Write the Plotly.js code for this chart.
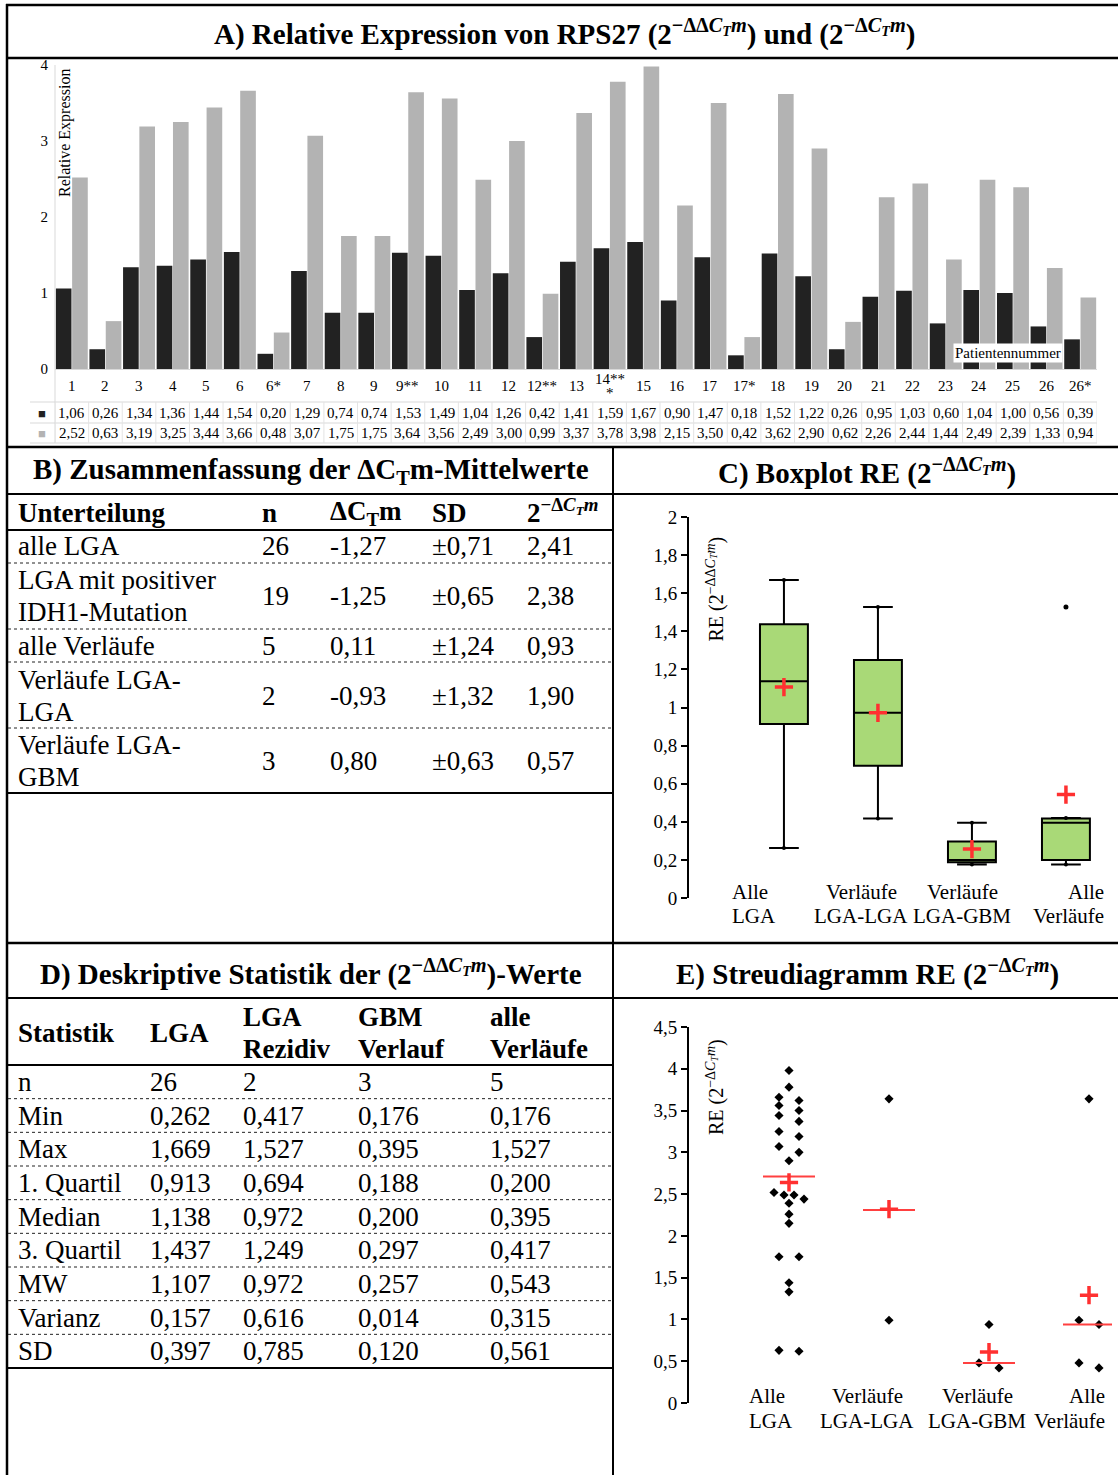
<!DOCTYPE html>
<html><head><meta charset="utf-8">
<script src="https://cdn.plot.ly/plotly-3.0.1.min.js"></script>
<style>html,body{margin:0;padding:0;background:#fff}#chart{width:1118px;height:1475px}</style>
</head><body><div id="chart"></div>
<script>
// ================= DATA =================
const patientLabels = ['1','2','3','4','5','6','6*','7','8','9','9**','10','11','12','12**','13','14***','15','16','17','17*','18','19','20','21','22','23','24','25','26','26*'];
const patientTickText = ['1','2','3','4','5','6','6*','7','8','9','9**','10','11','12','12**','13','14**<br>*','15','16','17','17*','18','19','20','21','22','23','24','25','26','26*'];
const reDeltaDelta = [1.06,0.26,1.34,1.36,1.44,1.54,0.20,1.29,0.74,0.74,1.53,1.49,1.04,1.26,0.42,1.41,1.59,1.67,0.90,1.47,0.18,1.52,1.22,0.26,0.95,1.03,0.60,1.04,1.00,0.56,0.39];
const reDelta = [2.52,0.63,3.19,3.25,3.44,3.66,0.48,3.07,1.75,1.75,3.64,3.56,2.49,3.00,0.99,3.37,3.78,3.98,2.15,3.50,0.42,3.62,2.90,0.62,2.26,2.44,1.44,2.49,2.39,1.33,0.94];
const verlaufLgaLga = ['9**','12**'];
const verlaufLgaGbm = ['6*','17*','26*'];

// Table B
const bGroups = ['alle LGA','LGA mit positiver<br>IDH1-Mutation','alle Verläufe','Verläufe LGA-<br>LGA','Verläufe LGA-<br>GBM'];
const bN = [26,19,5,2,3];
const bDeltaCt = [-1.27,-1.25,0.11,-0.93,0.80];
const bSD = [0.71,0.65,1.24,1.32,0.63];
const bRE = [2.41,2.38,0.93,1.90,0.57];

// Table D (rows: n, Min, Max, Q1, Median, Q3, MW, Varianz, SD)
const statNames = ['n','Min','Max','1. Quartil','Median','3. Quartil','MW','Varianz','SD'];
const statLGA = [26,0.262,1.669,0.913,1.138,1.437,1.107,0.157,0.397];
const statRezidiv = [2,0.417,1.527,0.694,0.972,1.249,0.972,0.616,0.785];
const statGBM = [3,0.176,0.395,0.188,0.200,0.297,0.257,0.014,0.120];
const statAlle = [5,0.176,1.527,0.200,0.395,0.417,0.543,0.315,0.561];

// Panel E summary lines (median) and crosses (mean)
const groupLabels = ['Alle<br>LGA','Verläufe<br>LGA-LGA','Verläufe<br>LGA-GBM','Alle<br>Verläufe'];
const scatterMedian = [2.71,2.31,0.48,0.94];
const scatterMean = [2.64,2.32,0.61,1.29];

// ================= HELPERS =================
const W = 1118, H = 1475;
const X = p => p / W, Y = p => 1 - p / H;
const FONT = 'Liberation Serif, Times New Roman, serif';
const fmt = (v, d) => v.toFixed(d).replace('.', ',');
const ctm = '<i>C<sub>T</sub>m</i>';
const RED = '#ff3030';

const isLL = l => verlaufLgaLga.includes(l);
const isLG = l => verlaufLgaGbm.includes(l);
const allIdx = patientLabels.map((l,i)=>i);
const idxLGA = allIdx.filter(i=>!isLL(patientLabels[i]) && !isLG(patientLabels[i]));
const idxLL = allIdx.filter(i=>isLL(patientLabels[i]));
const idxLG = allIdx.filter(i=>isLG(patientLabels[i]));
const idxAll = allIdx.filter(i=>isLL(patientLabels[i]) || isLG(patientLabels[i]));
const groupIdx = [idxLGA, idxLL, idxLG, idxAll];

// ================= TRACES =================
const traces = [];
traces.push({type:'bar', x:patientLabels, y:reDeltaDelta, xaxis:'x', yaxis:'y',
  marker:{color:'#222222', line:{width:0}}, hoverinfo:'skip'});
traces.push({type:'bar', x:patientLabels, y:reDelta, xaxis:'x', yaxis:'y',
  marker:{color:'#b3b3b3', line:{width:0}}, hoverinfo:'skip'});

// Box plot (C)
const boxCols = [statLGA, statRezidiv, statGBM, statAlle];
const bq1 = boxCols.map(c=>c[3]), bmed = boxCols.map(c=>c[4]), bq3 = boxCols.map(c=>c[5]);
const bmin = boxCols.map(c=>c[1]), bmean = boxCols.map(c=>c[6]);
const bUpper = [], outX = [], outY = [];
boxCols.forEach((c,g)=>{
  const lim = c[5] + 1.5*(c[5]-c[3]);
  if (c[2] <= lim) { bUpper.push(c[2]); }
  else {
    const raw = groupIdx[g].map(i=>reDeltaDelta[i]);
    const inside = raw.filter(v=>v<=lim);
    bUpper.push(Math.max(c[5], Math.max.apply(null, inside)));
    raw.filter(v=>v>lim).forEach(v=>{ outX.push(g); outY.push(c[2]); });
  }
});
traces.push({type:'box', xaxis:'x2', yaxis:'y2', x:[0,1,2,3], q1:bq1, median:bmed, q3:bq3,
  lowerfence:bmin, upperfence:bUpper, width:0.51, whiskerwidth:0.62, boxpoints:false,
  fillcolor:'#a9d977', line:{color:'#000', width:2}, hoverinfo:'skip'});
traces.push({type:'scatter', mode:'markers', xaxis:'x2', yaxis:'y2',
  x:[0,1,2,3,0,1,2,3], y:bmin.concat(bUpper), marker:{color:'#000', size:4}, hoverinfo:'skip'});
traces.push({type:'scatter', mode:'markers', xaxis:'x2', yaxis:'y2', x:outX, y:outY,
  marker:{color:'#000', size:5}, hoverinfo:'skip'});
traces.push({type:'scatter', mode:'markers', xaxis:'x2', yaxis:'y2', x:[0,1,2,3], y:bmean,
  marker:{symbol:'cross-thin-open', size:13, color:RED, line:{color:RED, width:3.5}}, hoverinfo:'skip'});

// Scatter (E) with simple swarm offsets
function swarm(vals){
  const order = vals.map((v,i)=>i).sort((a,b)=>vals[b]-vals[a]);
  const off = new Array(vals.length).fill(0);
  let k = 0;
  while (k < order.length){
    const start = vals[order[k]];
    let e = k;
    while (e+1 < order.length && start - vals[order[e+1]] < 0.1) e++;
    const n = e-k+1;
    const sp = n===2 ? 0.2 : 0.1;
    for (let j=0;j<n;j++) off[order[k+j]] = (j-(n-1)/2)*sp;
    k = e+1;
  }
  return off;
}
const ex = [], ey = [];
groupIdx.forEach((idx,g)=>{
  const vals = idx.map(i=>reDelta[i]);
  const off = swarm(vals);
  vals.forEach((v,j)=>{ ex.push(g+off[j]); ey.push(v); });
});
traces.push({type:'scatter', mode:'markers', xaxis:'x3', yaxis:'y3', x:ex, y:ey,
  marker:{symbol:'diamond', size:7, color:'#000'}, hoverinfo:'skip'});
const mlx = [], mly = [];
scatterMedian.forEach((m,g)=>{ mlx.push(g-0.26, g+0.26, null); mly.push(m, m, null); });
traces.push({type:'scatter', mode:'lines', xaxis:'x3', yaxis:'y3', x:mlx, y:mly,
  line:{color:'#ff4040', width:2}, hoverinfo:'skip'});
traces.push({type:'scatter', mode:'markers', xaxis:'x3', yaxis:'y3', x:[0,1,2,3], y:scatterMean,
  marker:{symbol:'cross-thin-open', size:13, color:RED, line:{color:RED, width:3.5}}, hoverinfo:'skip'});

// ================= SHAPES =================
const shapes = [];
const hline = (py, x0, x1, w, dash, color) => shapes.push({type:'line', xref:'paper', yref:'paper',
  x0:X(x0), x1:X(x1), y0:Y(py), y1:Y(py), line:{color:color||'#000', width:w, dash:dash||'solid'}});
const vline = (px, y0, y1, w, color) => shapes.push({type:'line', xref:'paper', yref:'paper',
  x0:X(px), x1:X(px), y0:Y(y0), y1:Y(y1), line:{color:color||'#000', width:w}});
vline(7, 4, 1475, 2.5);
hline(5, 6, 1118, 2.5);
hline(58, 6, 1118, 2.5);
hline(447, 6, 1118, 2.5);
hline(494, 6, 1118, 2);
vline(613, 446, 1475, 2);
hline(530, 6, 613, 2);
[563, 629, 662, 728].forEach(y=>hline(y, 8, 613, 1, 'dot', '#222'));
hline(793, 6, 613, 2);
hline(943, 6, 1118, 2.5);
hline(998, 6, 1118, 2);
hline(1065, 6, 613, 2);
const dRowTop = 1065, dRowH = (1368-1065)/9;
for (let r=1;r<9;r++) hline(dRowTop + r*dRowH, 8, 613, 1, 'dot', '#222');
hline(1368, 6, 613, 2);
[402, 423, 443].forEach(y=>hline(y, 30, 1097, 1, 'solid', '#d9d9d9'));
vline(55, 65, 443, 1, '#d9d9d9');
for (let k=0;k<=patientLabels.length;k++){
  shapes.push({type:'line', xref:'x', yref:'paper', x0:k-0.5, x1:k-0.5, y0:Y(402), y1:Y(443),
    line:{color:'#e4e4e4', width:1}});
}

// ================= ANNOTATIONS =================
const ann = [];
const txt = (text, px, py, size, opts) => ann.push(Object.assign({xref:'paper', yref:'paper',
  x:X(px), y:Y(py), text:text, showarrow:false, xanchor:'left', yanchor:'middle', align:'left',
  borderpad:0, font:{family:FONT, size:size, color:'#000'}}, opts||{}));
const lines = (text, px, pyc, size, gap, opts, bold) => {
  const parts = text.split('<br>');
  parts.forEach((p,j)=>txt(bold ? '<b>'+p+'</b>' : p, px, pyc + (j-(parts.length-1)/2)*gap, size, opts));
};

// titles
const TS = 29;
txt('<b>A) Relative Expression von RPS27 (2<sup>−ΔΔ'+ctm+'</sup>) und (2<sup>−Δ'+ctm+'</sup>)</b>', 564, 33, TS, {xanchor:'center'});
txt('<b>B) Zusammenfassung der ΔC<sub>T</sub>m-Mittelwerte</b>', 311, 471, TS, {xanchor:'center'});
txt('<b>C) Boxplot RE (2<sup>−ΔΔ'+ctm+'</sup>)</b>', 867, 471, TS, {xanchor:'center'});
txt('<b>D) Deskriptive Statistik der (2<sup>−ΔΔ'+ctm+'</sup>)-Werte</b>', 311, 972, TS, {xanchor:'center'});
txt('<b>E) Streudiagramm RE (2<sup>−Δ'+ctm+'</sup>)</b>', 867, 972, TS, {xanchor:'center'});

// Panel A extras
txt('Relative Expression', 65, 68, 16, {xanchor:'center', yanchor:'top', textangle:-90});
txt('Patientennummer', 1008, 353, 15, {xanchor:'center', bgcolor:'#fff', borderpad:1});
txt('■', 42, 413, 13, {xanchor:'center', font:{family:FONT, size:13, color:'#222'}});
txt('■', 42, 433, 13, {xanchor:'center', font:{family:FONT, size:13, color:'#b3b3b3'}});
patientLabels.forEach((l,i)=>{
  const parts = patientTickText[i].split('<br>');
  parts.forEach((p,j)=>ann.push({xref:'x', yref:'paper', x:i, y:Y(386 + (j-(parts.length-1)/2)*14),
    text:p, showarrow:false, xanchor:'center', yanchor:'middle', font:{family:FONT, size:15, color:'#000'}}));
  ann.push({xref:'x', yref:'paper', x:i, y:Y(413), text:fmt(reDeltaDelta[i],2), showarrow:false,
    xanchor:'center', yanchor:'middle', font:{family:FONT, size:15, color:'#000'}});
  ann.push({xref:'x', yref:'paper', x:i, y:Y(433), text:fmt(reDelta[i],2), showarrow:false,
    xanchor:'center', yanchor:'middle', font:{family:FONT, size:15, color:'#000'}});
});

// Table B
const BS = 27;
const bCols = [17, 261, 329, 431, 526];
txt('<b>Unterteilung</b>', bCols[0], 513, BS);
txt('<b>n</b>', bCols[1], 513, BS);
txt('<b>ΔC<sub>T</sub>m</b>', bCols[2], 513, BS);
txt('<b>SD</b>', bCols[3], 513, BS);
txt('<b>2<sup>−Δ'+ctm+'</sup></b>', bCols[4], 511, BS);
const bRowY = [546, 596, 646, 696, 761];
bGroups.forEach((g,r)=>{
  lines(g, bCols[0], bRowY[r], BS, 32);
  txt(String(bN[r]), bCols[1], bRowY[r], BS);
  txt(fmt(bDeltaCt[r],2), bCols[2], bRowY[r], BS);
  txt('±'+fmt(bSD[r],2), bCols[3], bRowY[r], BS);
  txt(fmt(bRE[r],2), bCols[4], bRowY[r], BS);
});

// Table D
const dCols = [17, 149, 242, 357, 489];
['Statistik','LGA','LGA<br>Rezidiv','GBM<br>Verlauf','alle<br>Verläufe'].forEach((h,j)=>lines(h, dCols[j], 1033, BS, 32, null, true));
statNames.forEach((s,r)=>{
  const py = dRowTop + (r+0.5)*dRowH;
  txt(s, dCols[0], py, BS);
  [statLGA, statRezidiv, statGBM, statAlle].forEach((c,j)=>{
    txt(r===0 ? String(c[r]) : fmt(c[r],3), dCols[j+1], py, BS);
  });
});

// Panel C labels
txt('RE (2<sup>−ΔΔ'+ctm+'</sup>)', 715, 536, 20, {xanchor:'center', yanchor:'top', textangle:-90});
const cLab = [[731,'left'],[861,'center'],[962,'center'],[1105,'right']];
groupLabels.forEach((g,i)=>lines(g, cLab[i][0], 904, 21, 24.5, {xanchor:cLab[i][1], align:cLab[i][1]}));
// Panel E labels
txt('RE (2<sup>−Δ'+ctm+'</sup>)', 715, 1038, 20, {xanchor:'center', yanchor:'top', textangle:-90});
const eLab = [[748,'left'],[867,'center'],[977,'center'],[1106,'right']];
groupLabels.forEach((g,i)=>lines(g, eLab[i][0], 1408.5, 21, 25, {xanchor:eLab[i][1], align:eLab[i][1]}));

// ================= LAYOUT =================
const layout = {
  width:W, height:H, margin:{l:0,r:0,t:0,b:0}, paper_bgcolor:'#fff', plot_bgcolor:'rgba(0,0,0,0)',
  showlegend:false, separators:', ', barmode:'group', bargap:0.03, bargroupgap:0.04,
  font:{family:FONT, color:'#000'},
  xaxis:{domain:[X(55), X(1097)], anchor:'y', type:'category', range:[-0.5, patientLabels.length-0.5],
    showticklabels:false, showline:true, linecolor:'#d9d9d9', linewidth:1,
    ticks:'', showgrid:false, zeroline:false},
  yaxis:{domain:[Y(369), Y(65)], anchor:'x', range:[0,4], tickvals:[0,1,2,3,4], showline:false,
    ticks:'', showgrid:false, zeroline:false, ticklabelstandoff:6, tickfont:{family:FONT, size:15, color:'#000'}},
  xaxis2:{domain:[X(689), X(1112)], anchor:'y2', range:[-1.01, 3.49], visible:false},
  yaxis2:{domain:[Y(898), Y(517)], anchor:'x2', range:[0,2], dtick:0.2, tick0:0, showline:true,
    linecolor:'#000', linewidth:2, ticks:'outside', ticklen:6, tickwidth:2, tickcolor:'#000',
    showgrid:false, zeroline:false, tickfont:{family:FONT, size:19, color:'#000'}},
  xaxis3:{domain:[X(689), X(1112)], anchor:'y3', range:[-1, 3.23], visible:false},
  yaxis3:{domain:[Y(1403), Y(1027)], anchor:'x3', range:[0,4.5], dtick:0.5, tick0:0, showline:true,
    linecolor:'#000', linewidth:2, ticks:'outside', ticklen:6, tickwidth:2, tickcolor:'#000',
    showgrid:false, zeroline:false, tickfont:{family:FONT, size:19, color:'#000'}},
  shapes:shapes, annotations:ann
};
Plotly.newPlot('chart', traces, layout, {staticPlot:true, displayModeBar:false});
</script></body></html>
